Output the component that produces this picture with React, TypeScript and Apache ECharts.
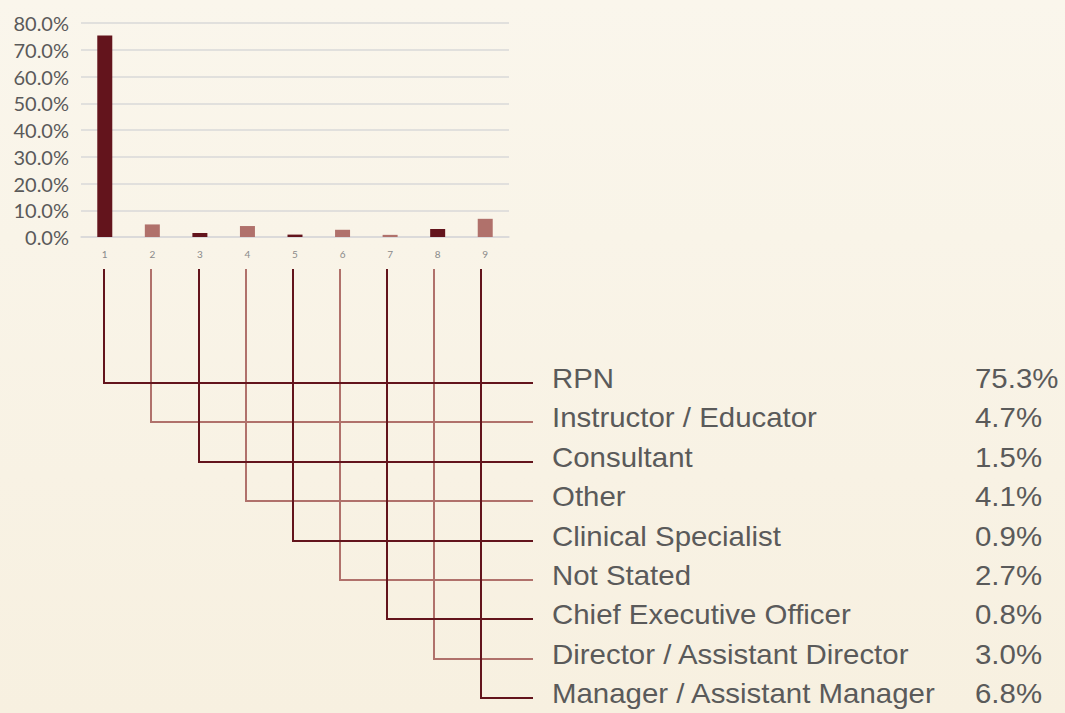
import React, { useEffect, useRef } from "react";
import * as echarts from "echarts";

const categories = ["1", "2", "3", "4", "5", "6", "7", "8", "9"];
const roles = [
  "RPN",
  "Instructor / Educator",
  "Consultant",
  "Other",
  "Clinical Specialist",
  "Not Stated",
  "Chief Executive Officer",
  "Director / Assistant Director",
  "Manager / Assistant Manager",
];
const values = [75.3, 4.7, 1.5, 4.1, 0.9, 2.7, 0.8, 3.0, 6.8];
const yTicks = [0, 10, 20, 30, 40, 50, 60, 70, 80];

const DARK = "#63141c";
const LIGHT = "#b0716b";
const barColors = [DARK, LIGHT, DARK, LIGHT, DARK, LIGHT, LIGHT, DARK, LIGHT];
const lineColors = [DARK, LIGHT, DARK, LIGHT, DARK, LIGHT, DARK, LIGHT, DARK];

export default function App() {
  const ref = useRef<HTMLDivElement>(null);
  useEffect(() => {
    if (!ref.current) return;
    const chart = echarts.init(ref.current, undefined, { renderer: "svg" });
    chart.setOption({
      animation: false,
      backgroundColor: {
        type: "linear",
        x: 0,
        y: 0,
        x2: 0,
        y2: 1,
        colorStops: [
          { offset: 0, color: "#faf6ec" },
          { offset: 1, color: "#f7f0e0" },
        ],
      },
      grid: { left: 81, top: 23, width: 428, height: 214 },
      xAxis: {
        type: "category",
        data: categories,
        axisLine: { show: true, lineStyle: { color: "#d9d9d9", width: 1.5 } },
        axisTick: { show: false },
        axisLabel: { color: "#8a8a8a", fontSize: 10, fontFamily: "Lato", margin: 12 },
      },
      yAxis: {
        type: "value",
        min: yTicks[0],
        max: yTicks[yTicks.length - 1],
        interval: 10,
        axisLine: { show: false },
        axisTick: { show: false },
        splitLine: { lineStyle: { color: "#d9d9d9", width: 1.5 } },
        axisLabel: {
          color: "#5a5a5a",
          fontSize: 20,
          fontFamily: "Lato",
          margin: 12,
          formatter: (v: number) => v.toFixed(1) + "%",
        },
      },
      series: [
        {
          type: "bar",
          barWidth: 15,
          data: values.map((v, i) => ({ value: v, itemStyle: { color: barColors[i] } })),
        },
      ],
    });

    const rowY0 = 383;
    const rowStep = 39.4;
    const lineEnd = 533;
    const lineTop = 269;
    const order = [1, 3, 5, 7, 0, 2, 4, 6, 8];
    const x0 = chart.convertToPixel({ xAxisIndex: 0 }, 0) as number;
    const graphics: any[] = [];
    order.forEach((i) => {
      const px = chart.convertToPixel({ xAxisIndex: 0 }, i) as number;
      const x = Math.round(x0 - 0.5 + (px - x0) * 0.991);
      const y = Math.round(rowY0 + rowStep * i);
      graphics.push({
        type: "polyline",
        z: lineColors[i] === DARK ? 11 : 10,
        shape: { points: [[x, lineTop], [x, y], [lineEnd, y]] },
        style: { stroke: lineColors[i], lineWidth: 2, fill: null },
      });
    });
    roles.forEach((r, i) => {
      const y = rowY0 + rowStep * i - 4.5;
      graphics.push({
        type: "text",
        x: 552,
        y,
        scaleX: 1.09,
        style: {
          text: r,
          font: "27px 'Liberation Sans'",
          fill: "#5a5a5a",
          textAlign: "left",
          textVerticalAlign: "middle",
        },
      });
      graphics.push({
        type: "text",
        x: 975,
        y,
        scaleX: 1.09,
        style: {
          text: values[i].toFixed(1) + "%",
          font: "27px 'Liberation Sans'",
          fill: "#5a5a5a",
          textAlign: "left",
          textVerticalAlign: "middle",
        },
      });
    });
    chart.setOption({ graphic: graphics });
    return () => chart.dispose();
  }, []);
  return (
    <div
      ref={ref}
      style={{ position: "absolute", left: 0, top: 0, width: 1065, height: 713 }}
    />
  );
}
